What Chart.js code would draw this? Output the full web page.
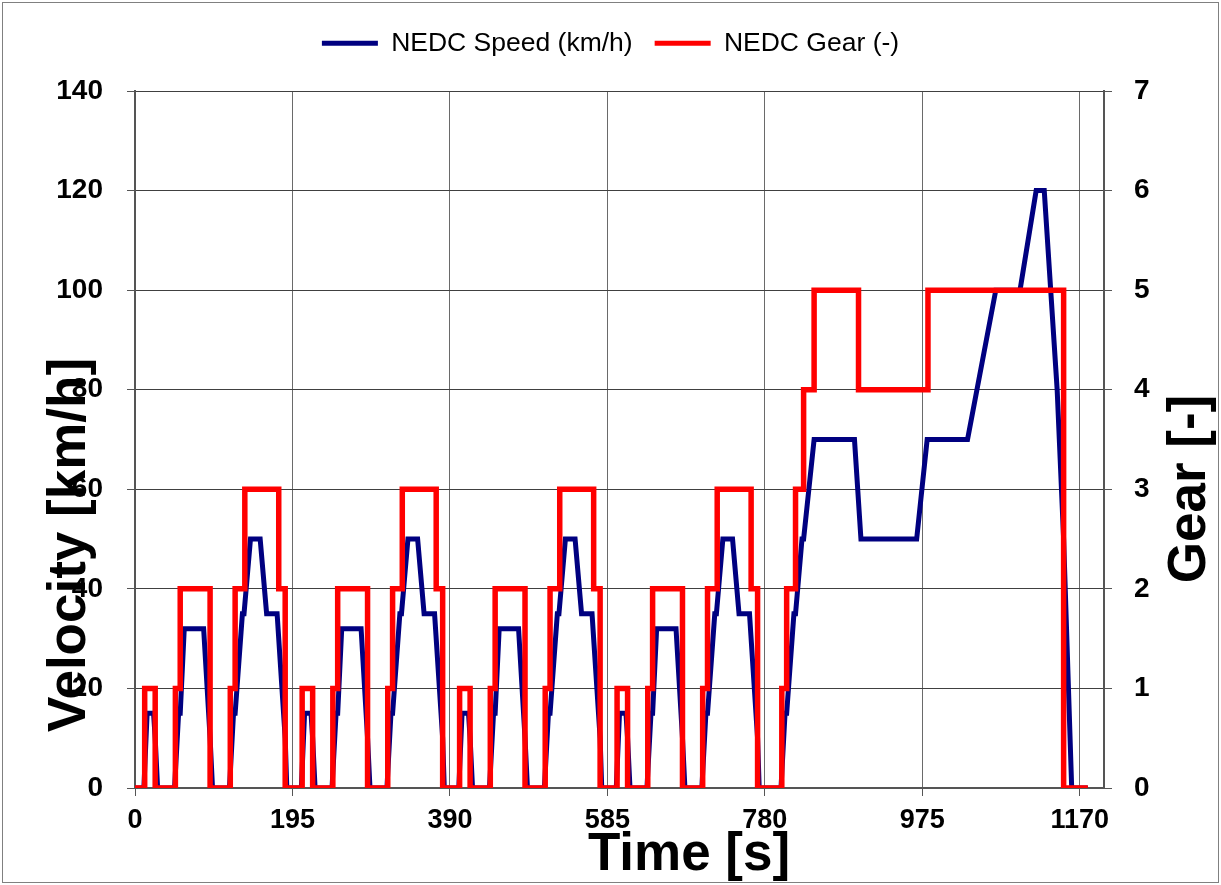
<!DOCTYPE html>
<html>
<head>
<meta charset="utf-8">
<script src="https://cdn.jsdelivr.net/npm/chart.js@4.4.1/dist/chart.umd.min.js"></script>
<style>
  html, body { margin: 0; padding: 0; background: #fff; }
  canvas { display: block; }
</style>
</head>
<body>
<canvas id="nedcChart" width="1221" height="885"></canvas>
<script>
// NEDC: 4 x ECE-15 (urban) + EUDC
const legendLabels = ["NEDC Speed (km/h)", "NEDC Gear (-)"];
const xTitle = "Time [s]";
const yTitle = "Velocity [km/h]";
const y2Title = "Gear [-]";

const timeTicks = [0, 195, 390, 585, 780, 975, 1170];
const velocityTicks = [0, 20, 40, 60, 80, 100, 120, 140];
const gearTicks = [0, 1, 2, 3, 4, 5, 6, 7];

const speedTime = [
	0, 11, 15, 23, 25, 28, 49, 54, 56, 61, 85, 93, 96, 117, 122, 124, 133, 135, 143, 155, 163, 176, 186, 188,
	195, 206, 210, 218, 220, 223, 244, 249, 251, 256, 280, 288, 291, 312, 317, 319, 328, 330, 338, 350, 358, 371, 381, 383,
	390, 401, 405, 413, 415, 418, 439, 444, 446, 451, 475, 483, 486, 507, 512, 514, 523, 525, 533, 545, 553, 566, 576, 578,
	585, 596, 600, 608, 610, 613, 634, 639, 641, 646, 670, 678, 681, 702, 707, 709, 718, 720, 728, 740, 748, 761, 771, 773,
	780, 800, 805, 807, 816, 818, 826, 828, 841, 891, 899, 968, 981, 1031, 1066, 1096, 1116, 1126, 1142, 1150, 1160, 1180,
];
const speedKmh = [
	0, 0, 15, 15, 10, 0, 0, 15, 15, 32, 32, 10, 0, 0, 15, 15, 35, 35, 50, 50, 35, 35, 10, 0,
	0, 0, 15, 15, 10, 0, 0, 15, 15, 32, 32, 10, 0, 0, 15, 15, 35, 35, 50, 50, 35, 35, 10, 0,
	0, 0, 15, 15, 10, 0, 0, 15, 15, 32, 32, 10, 0, 0, 15, 15, 35, 35, 50, 50, 35, 35, 10, 0,
	0, 0, 15, 15, 10, 0, 0, 15, 15, 32, 32, 10, 0, 0, 15, 15, 35, 35, 50, 50, 35, 35, 10, 0,
	0, 0, 15, 15, 35, 35, 50, 50, 70, 70, 50, 50, 70, 70, 100, 100, 120, 120, 80, 50, 0, 0,
];

// gear holds its value from this time until the next entry
const gearTime = [
	0, 12, 25, 50, 56, 93, 118, 124, 136, 178, 186,
	195, 207, 220, 245, 251, 288, 313, 319, 331, 373, 381,
	390, 402, 415, 440, 446, 483, 508, 514, 526, 568, 576,
	585, 597, 610, 635, 641, 678, 703, 709, 721, 763, 771,
	780, 801, 807, 818, 828, 841, 896, 982, 1150, 1180,
];
const gearValue = [
	0, 1, 0, 1, 2, 0, 1, 2, 3, 2, 0,
	0, 1, 0, 1, 2, 0, 1, 2, 3, 2, 0,
	0, 1, 0, 1, 2, 0, 1, 2, 3, 2, 0,
	0, 1, 0, 1, 2, 0, 1, 2, 3, 2, 0,
	0, 1, 2, 3, 4, 5, 4, 5, 0, 0,
];

Chart.defaults.font.family = "'Liberation Sans', Arial, sans-serif";
Chart.defaults.color = "#000";

const FONT = "'Liberation Sans', Arial, sans-serif";

// legend takes the whole band above the plot
const legendSpacer = {
	id: "legendSpacer",
	beforeInit(chart) {
		const fit = chart.legend.fit;
		chart.legend.fit = function () {
			fit.call(this);
			this.height = 83;
		};
	},
};

// big axis titles + outer frame
const axisTitles = {
	id: "axisTitles",
	afterDraw(chart) {
		const { ctx } = chart;
		ctx.save();
		ctx.fillStyle = "#000";
		ctx.font = "bold 53px " + FONT;
		ctx.textAlign = "center";
		ctx.textBaseline = "alphabetic";
		ctx.fillText(xTitle, 689, 870);

		ctx.save();
		ctx.translate(85, 545);
		ctx.rotate(-Math.PI / 2);
		ctx.fillText(yTitle, 0, 0);
		ctx.restore();

		ctx.save();
		ctx.translate(1205, 489);
		ctx.rotate(-Math.PI / 2);
		ctx.fillText(y2Title, 0, 0);
		ctx.restore();

		ctx.strokeStyle = "#808080";
		ctx.lineWidth = 1;
		ctx.strokeRect(2.5, 2.5, chart.width - 5, chart.height - 5);
		ctx.restore();
	},
};

const setTicks = (values) => (scale) => {
	scale.ticks = values.map((v) => ({ value: v }));
};

new Chart(document.getElementById("nedcChart"), {
	type: "line",
	data: {
		datasets: [
			{
				label: legendLabels[0],
				data: speedTime.map((t, i) => ({ x: t, y: speedKmh[i] })),
				yAxisID: "y",
				borderColor: "#000080",
				backgroundColor: "#000080",
				borderWidth: 5,
				pointRadius: 0,
				tension: 0,
				order: 1,
			},
			{
				label: legendLabels[1],
				data: gearTime.map((t, i) => ({ x: t, y: gearValue[i] })),
				yAxisID: "yGear",
				borderColor: "#ff0000",
				backgroundColor: "#ff0000",
				borderWidth: 5.5,
				pointRadius: 0,
				stepped: true,
				order: 0,
			},
		],
	},
	options: {
		responsive: false,
		animation: false,
		layout: { padding: { top: 8, left: 0, right: 0, bottom: 0 } },
		plugins: {
			legend: {
				position: "top",
				labels: {
					boxWidth: 56,
					boxHeight: 5,
					padding: 22,
					color: "#000",
					font: { size: 26.5 },
					sort: (a, b) => a.datasetIndex - b.datasetIndex,
					generateLabels: (chart) =>
						Chart.defaults.plugins.legend.labels
							.generateLabels(chart)
							.map((l) => ({ ...l, lineWidth: 0 })),
				},
			},
			tooltip: { enabled: false },
		},
		scales: {
			x: {
				type: "linear",
				min: 0,
				max: 1200,
				afterBuildTicks: setTicks(timeTicks),
				afterFit: (s) => {
					s.height = 97;
				},
				ticks: {
					font: { size: 27, weight: "bold" },
					color: "#000",
					padding: 8,
					maxRotation: 0,
					autoSkip: false,
					callback: (v) => String(v),
				},
				grid: { color: "#6a6a6a", tickLength: 8, tickColor: "#555" },
				border: { color: "#555", width: 2 },
			},
			y: {
				position: "left",
				min: 0,
				max: 140,
				afterBuildTicks: setTicks(velocityTicks),
				afterFit: (s) => {
					s.width = 135;
				},
				ticks: {
					font: { size: 28, weight: "bold" },
					color: "#000",
					padding: 24,
					callback: (v) => String(v),
				},
				grid: { color: "#404040", tickLength: 8, tickColor: "#555" },
				border: { color: "#555", width: 2 },
			},
			yGear: {
				position: "right",
				min: 0,
				max: 7,
				afterBuildTicks: setTicks(gearTicks),
				afterFit: (s) => {
					s.width = 117;
				},
				ticks: {
					font: { size: 28, weight: "bold" },
					color: "#000",
					padding: 22,
					callback: (v) => String(v),
				},
				grid: { drawOnChartArea: false, tickLength: 8, tickColor: "#555" },
				border: { color: "#555", width: 2 },
			},
		},
	},
	plugins: [legendSpacer, axisTitles],
});
</script>
</body>
</html>
